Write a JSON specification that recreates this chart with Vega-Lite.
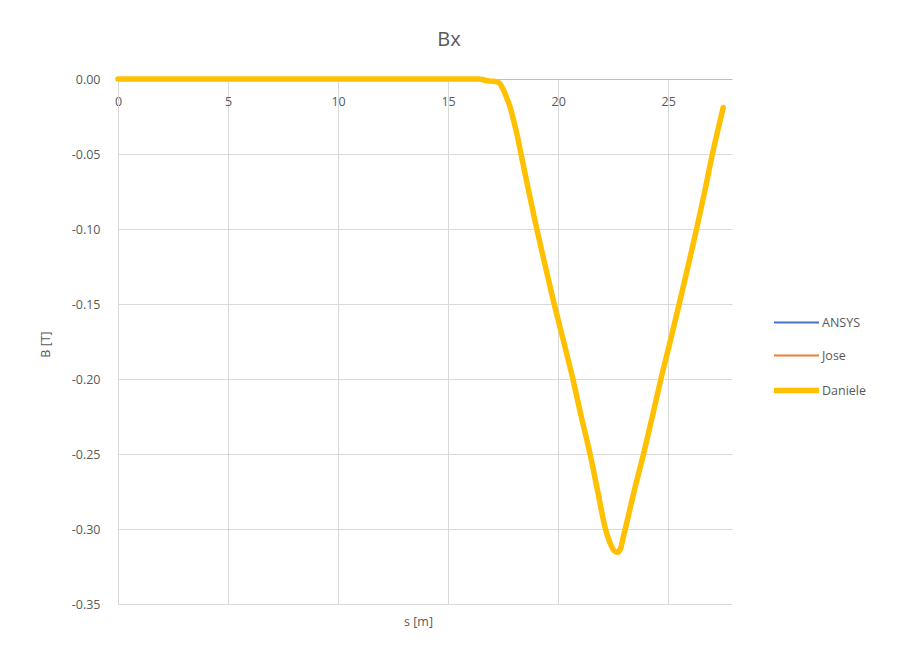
{
  "$schema": "https://vega.github.io/schema/vega-lite/v6.json",
  "width": 614,
  "height": 525,
  "autosize": "none",
  "padding": {"left": 118, "top": 79, "right": 166, "bottom": 57},
  "background": "white",
  "title": {
    "text": "Bx",
    "anchor": "middle",
    "frame": "group",
    "dx": 24,
    "offset": 23,
    "fontSize": 20,
    "font": "Open Sans",
    "fontWeight": "normal",
    "color": "#595959"
  },
  "config": {
    "view": {"stroke": null},
    "font": "Open Sans",
    "axis": {
      "labelFont": "Open Sans",
      "titleFont": "Open Sans",
      "labelColor": "#595959",
      "titleColor": "#595959",
      "labelFontSize": 12.5,
      "titleFontSize": 12.5,
      "titleFontWeight": "normal",
      "gridColor": "#d9d9d9",
      "gridWidth": 1,
      "domainColor": "#d9d9d9",
      "ticks": false
    },
    "legend": {
      "symbolType": "stroke",
      "symbolSize": 2025,
      "labelOffset": 0,
      "labelFont": "Open Sans",
      "labelFontSize": 12.5,
      "labelColor": "#595959",
      "padding": 0
    }
  },
  "data": {
    "values": [
      {"s": 0, "ANSYS": 0, "Jose": 0, "Daniele": 0},
      {"s": 5, "ANSYS": 0, "Jose": 0, "Daniele": 0},
      {"s": 10, "ANSYS": 0, "Jose": 0, "Daniele": 0},
      {"s": 15, "ANSYS": 0, "Jose": 0, "Daniele": 0},
      {"s": 16.4, "ANSYS": 0, "Jose": 0, "Daniele": 0},
      {"s": 16.6, "ANSYS": -0.0005, "Jose": -0.0005, "Daniele": -0.0005},
      {"s": 16.8, "ANSYS": -0.0012, "Jose": -0.0012, "Daniele": -0.0012},
      {"s": 17.0, "ANSYS": -0.0015, "Jose": -0.0015, "Daniele": -0.0015},
      {"s": 17.2, "ANSYS": -0.0018, "Jose": -0.0018, "Daniele": -0.0018},
      {"s": 17.35, "ANSYS": -0.003, "Jose": -0.003, "Daniele": -0.003},
      {"s": 17.5, "ANSYS": -0.007, "Jose": -0.007, "Daniele": -0.007},
      {"s": 17.65, "ANSYS": -0.012, "Jose": -0.012, "Daniele": -0.012},
      {"s": 17.8, "ANSYS": -0.018, "Jose": -0.018, "Daniele": -0.018},
      {"s": 17.95, "ANSYS": -0.026, "Jose": -0.026, "Daniele": -0.026},
      {"s": 18.1, "ANSYS": -0.035, "Jose": -0.035, "Daniele": -0.035},
      {"s": 18.3, "ANSYS": -0.049, "Jose": -0.049, "Daniele": -0.049},
      {"s": 18.65, "ANSYS": -0.074, "Jose": -0.074, "Daniele": -0.074},
      {"s": 19.03, "ANSYS": -0.1, "Jose": -0.1, "Daniele": -0.1},
      {"s": 19.42, "ANSYS": -0.125, "Jose": -0.125, "Daniele": -0.125},
      {"s": 19.82, "ANSYS": -0.15, "Jose": -0.15, "Daniele": -0.15},
      {"s": 20.25, "ANSYS": -0.175, "Jose": -0.175, "Daniele": -0.175},
      {"s": 20.67, "ANSYS": -0.2, "Jose": -0.2, "Daniele": -0.2},
      {"s": 21.05, "ANSYS": -0.225, "Jose": -0.225, "Daniele": -0.225},
      {"s": 21.45, "ANSYS": -0.25, "Jose": -0.25, "Daniele": -0.25},
      {"s": 21.8, "ANSYS": -0.275, "Jose": -0.275, "Daniele": -0.275},
      {"s": 22.15, "ANSYS": -0.3, "Jose": -0.3, "Daniele": -0.3},
      {"s": 22.35, "ANSYS": -0.309, "Jose": -0.309, "Daniele": -0.309},
      {"s": 22.55, "ANSYS": -0.3145, "Jose": -0.3145, "Daniele": -0.3145},
      {"s": 22.7, "ANSYS": -0.3155, "Jose": -0.3155, "Daniele": -0.3155},
      {"s": 22.85, "ANSYS": -0.3125, "Jose": -0.3125, "Daniele": -0.3125},
      {"s": 22.95, "ANSYS": -0.306, "Jose": -0.306, "Daniele": -0.306},
      {"s": 23.05, "ANSYS": -0.3, "Jose": -0.3, "Daniele": -0.3},
      {"s": 23.45, "ANSYS": -0.275, "Jose": -0.275, "Daniele": -0.275},
      {"s": 23.88, "ANSYS": -0.25, "Jose": -0.25, "Daniele": -0.25},
      {"s": 24.28, "ANSYS": -0.225, "Jose": -0.225, "Daniele": -0.225},
      {"s": 24.67, "ANSYS": -0.2, "Jose": -0.2, "Daniele": -0.2},
      {"s": 25.09, "ANSYS": -0.175, "Jose": -0.175, "Daniele": -0.175},
      {"s": 25.5, "ANSYS": -0.15, "Jose": -0.15, "Daniele": -0.15},
      {"s": 25.9, "ANSYS": -0.125, "Jose": -0.125, "Daniele": -0.125},
      {"s": 26.29, "ANSYS": -0.1, "Jose": -0.1, "Daniele": -0.1},
      {"s": 26.66, "ANSYS": -0.075, "Jose": -0.075, "Daniele": -0.075},
      {"s": 27.01, "ANSYS": -0.05, "Jose": -0.05, "Daniele": -0.05},
      {"s": 27.26, "ANSYS": -0.034, "Jose": -0.034, "Daniele": -0.034},
      {"s": 27.5, "ANSYS": -0.019, "Jose": -0.019, "Daniele": -0.019}
    ]
  },
  "transform": [
    {"fold": ["ANSYS", "Jose", "Daniele"], "as": ["series", "B"]}
  ],
  "encoding": {
    "x": {
      "field": "s",
      "type": "quantitative",
      "scale": {"domain": [0, 27.9], "nice": false, "zero": false},
      "axis": {
        "orient": "top",
        "title": "s [m]",
        "titleX": 300,
        "titleY": 542,
        "titleBaseline": "middle",
        "values": [0, 5, 10, 15, 20, 25],
        "labelPadding": -29,
        "labelFlush": false,
        "domainColor": "#bfbfbf"
      }
    },
    "y": {
      "field": "B",
      "type": "quantitative",
      "scale": {"domain": [-0.35, 0], "nice": false, "zero": false},
      "axis": {
        "title": "B [T]",
        "titleX": -73,
        "titleY": 265,
        "titleBaseline": "middle",
        "values": [0, -0.05, -0.1, -0.15, -0.2, -0.25, -0.3, -0.35],
        "labelExpr": "replace(format(datum.value, '.2f'), '\u2212', '-')",
        "labelPadding": 18
      }
    },
    "color": {
      "field": "series",
      "type": "nominal",
      "scale": {
        "domain": ["ANSYS", "Jose", "Daniele"],
        "range": ["#4472c4", "#ed7d31", "#ffc000"]
      },
      "legend": {"title": null, "orient": "none", "legendX": 653, "legendY": 220, "rowPadding": 3}
    },
    "strokeWidth": {
      "field": "series",
      "type": "ordinal",
      "scale": {
        "type": "ordinal",
        "domain": ["ANSYS", "Jose", "Daniele"],
        "range": [2, 2, 5.5]
      },
      "legend": {"title": null, "orient": "none", "legendX": 653, "legendY": 220, "rowPadding": 3}
    }
  },
  "layer": [
    {
      "transform": [{"filter": "datum.series !== 'Daniele'"}],
      "mark": {"type": "line", "interpolate": "monotone", "strokeCap": "round", "strokeJoin": "round"}
    },
    {
      "transform": [{"filter": "datum.series === 'Daniele'"}],
      "mark": {"type": "line", "interpolate": "monotone", "strokeCap": "round", "strokeJoin": "round"}
    }
  ]
}
